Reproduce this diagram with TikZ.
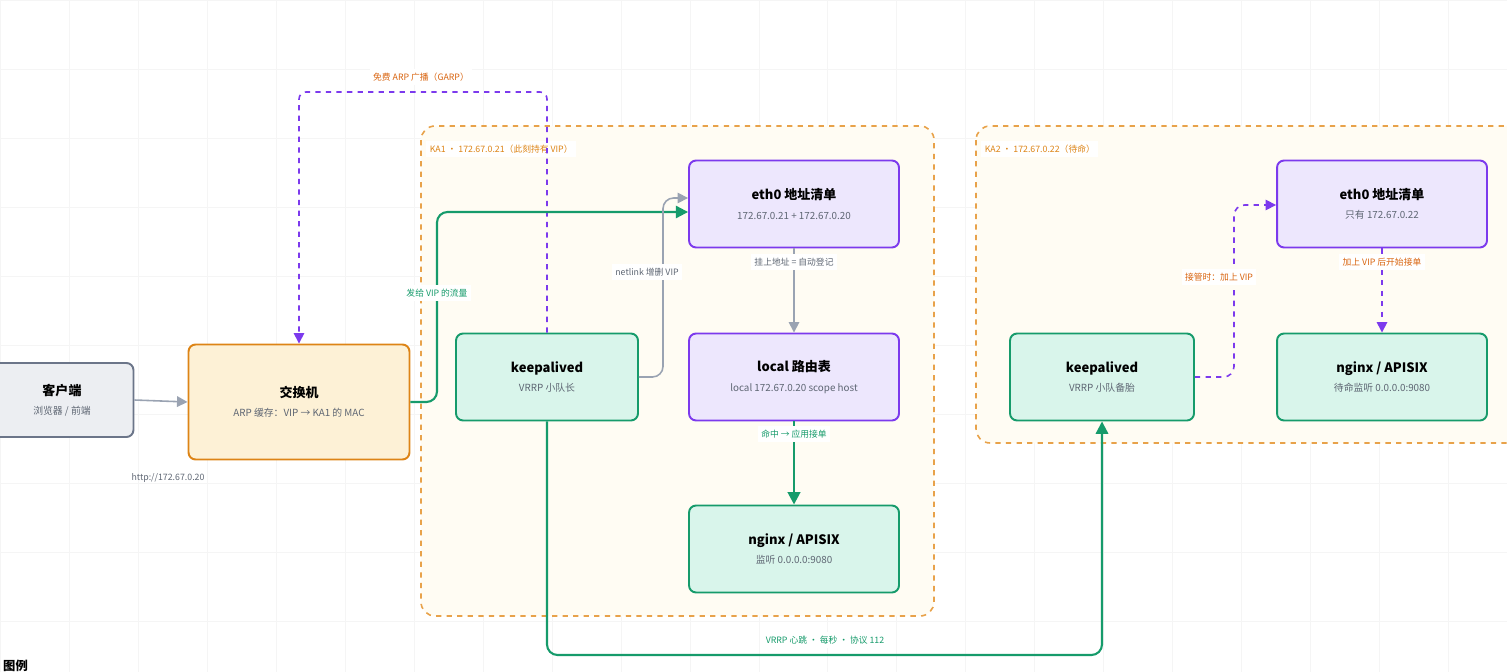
\documentclass[tikz,border=0pt]{standalone}
\usepackage{fontspec}
\setmainfont{Noto Sans CJK SC}
\usetikzlibrary{arrows.meta}
\definecolor{purpleline}{HTML}{7C3AED}
\definecolor{purplefill}{HTML}{EDE7FD}
\definecolor{greenline}{HTML}{169B6B}
\definecolor{greenfill}{HTML}{D9F5EB}
\definecolor{orangeline}{HTML}{DD8416}
\definecolor{orangefill}{HTML}{FDF1D6}
\definecolor{grayline}{HTML}{6B7589}
\definecolor{grayfill}{HTML}{ECEEF2}
\definecolor{arrowgray}{HTML}{9AA3B2}
\definecolor{groupfill}{HTML}{FFFCF3}
\definecolor{groupline}{HTML}{E8A24A}
\definecolor{labelorange}{HTML}{D9640F}
\definecolor{subtext}{HTML}{5E6673}
\tikzset{
  box/.style={draw, rounded corners=4pt, line width=1.1pt, minimum width=4.2cm, minimum height=1.74cm, align=center, font=\fontsize{5.6}{8}\selectfont\color{subtext}},
  dbbox/.style={box, draw=purpleline, fill=purplefill},
  svcbox/.style={box, draw=greenline, fill=greenfill},
  group/.style={draw=groupline, dashed, fill=groupfill, rounded corners=8pt, line width=0.9pt},
  tag/.style={fill=white, inner sep=2pt, font=\fontsize{5}{6}\selectfont},
  title/.style={font=\fontsize{7.4}{9}\selectfont\bfseries\color{black}},
  flow/.style={line width=1.2pt, greenline, -{Triangle[length=7pt,width=7pt]}},
  ctl/.style={line width=0.9pt, arrowgray, -{Triangle[length=6pt,width=6pt]}},
  vip/.style={line width=0.9pt, purpleline, dashed, -{Triangle[length=6pt,width=6pt]}}
}
\newcommand{\boxtext}[2]{{\fontsize{7.4}{9}\selectfont\bfseries\color{black}#1}\\[3pt]#2}
\begin{document}
\begin{tikzpicture}[x=0.02cm,y=-0.02cm]
\useasboundingbox (0,0) rectangle (1507,672);
\clip (0,0) rectangle (1507,672);
\draw[black!4, step=1.38cm] (0,0) grid (1507,672);
% groups
\draw[group] (421,126) rectangle (934,616);
\draw[group] (976,126) rectangle (1540,443);
\node[tag, anchor=west, text=orangeline] (ka1lbl) at (426,149) {KA1 · 172.67.0.21（此刻持有 VIP）};
\node[tag, anchor=west, text=orangeline] (ka2lbl) at (981,149) {KA2 · 172.67.0.22（待命）};
% nodes
\node[box, draw=grayline, fill=grayfill, minimum width=2.86cm, minimum height=1.48cm] (client) at (62,400) {\boxtext{客户端}{浏览器 / 前端}};
\node[box, draw=orangeline, fill=orangefill, minimum width=4.42cm, minimum height=2.3cm] (switch) at (299,402) {\boxtext{交换机}{ARP 缓存：VIP → KA1 的 MAC}};
\node[dbbox] (eth1) at (794,204) {\boxtext{eth0 地址清单}{172.67.0.21 + 172.67.0.20}};
\node[svcbox, minimum width=3.64cm] (ka1) at (547,377) {\boxtext{keepalived}{VRRP 小队长}};
\node[dbbox] (local) at (794,377) {\boxtext{local 路由表}{local 172.67.0.20 scope host}};
\node[svcbox] (nginx1) at (794,549) {\boxtext{nginx / APISIX}{监听 0.0.0.0:9080}};
\node[dbbox] (eth2) at (1382,204) {\boxtext{eth0 地址清单}{只有 172.67.0.22}};
\node[svcbox, minimum width=3.68cm] (ka2) at (1102,377) {\boxtext{keepalived}{VRRP 小队备胎}};
\node[svcbox] (nginx2) at (1382,377) {\boxtext{nginx / APISIX}{待命监听 0.0.0.0:9080}};
% connectors
\draw[ctl] (client.east) -- (switch.west);
\node[font=\fontsize{5}{6}\selectfont, text=subtext] (url) at (168,478) {http://172.67.0.20};
\draw[vip, rounded corners=4pt] (ka1.north) |- (423,92) -| (switch.north);
\node[tag, text=labelorange] (garp) at (421,77) {免费 ARP 广播（GARP）};
\draw[flow, rounded corners=6pt] (switch.east) -| (437,212) -- (eth1.west |- 0,212);
\node[tag, text=greenline] (flowlbl) at (437,293) {发给 VIP 的流量};
\draw[ctl, rounded corners=6pt] (ka1.east) -| (663,198) -- (eth1.west |- 0,198);
\node[tag, text=subtext] (nl) at (647,272) {netlink 增删 VIP};
\draw[ctl] (eth1.south) -- (local.north);
\node[tag, text=subtext] (reg) at (794,262) {挂上地址 = 自动登记};
\draw[flow, line width=1.5pt] (local.south) -- (nginx1.north);
\node[tag, text=greenline] (hit) at (794,434) {命中 → 应用接单};
\draw[flow, rounded corners=6pt] (ka1.south) |- (825,655) -| (ka2.south);
\node[tag, text=greenline] (hb) at (825,640) {VRRP 心跳 · 每秒 · 协议 112};
\draw[vip, rounded corners=6pt] (ka2.east) -| (1234,205) -- (eth2.west |- 0,205);
\node[tag, text=labelorange] (take) at (1219,277) {接管时：加上 VIP};
\draw[vip] (eth2.south) -- (nginx2.north);
\node[tag, text=labelorange] (start) at (1382,262) {加上 VIP 后开始接单};
\node[anchor=west, font=\fontsize{7}{8}\selectfont\bfseries] (legend) at (-3,666) {图例};
\end{tikzpicture}
\end{document}
